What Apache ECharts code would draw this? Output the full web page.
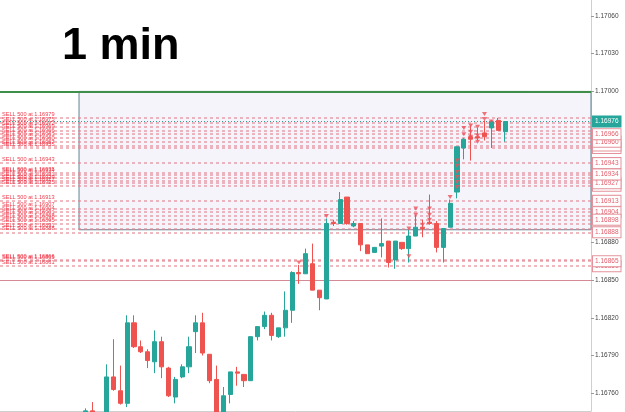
<!DOCTYPE html>
<html><head><meta charset="utf-8">
<script src="https://cdn.jsdelivr.net/npm/echarts@6/dist/echarts.min.js"></script>
<style>html,body{margin:0;padding:0;background:#fff}#c{width:625px;height:412px}</style>
</head><body><div id="c"></div>
<script>
const titleText = '1 min';
const categoryCount = 86;
const candleIndex = [12,13,15,16,17,18,19,20,21,22,23,24,25,26,27,28,29,30,31,32,33,34,35,36,37,38,39,40,41,42,43,44,45,46,47,48,49,50,51,52,53,54,55,56,57,58,59,60,61,62,63,64,65,66,67,68,69,70,71,72,73];
const opens  = [1.16742,1.16746,1.16740,1.16773,1.16762,1.16752,1.16816,1.16797,1.16793,1.16785,1.16801,1.16780,1.16757,1.16773,1.16781,1.16809,1.16816,1.16791,1.16771,1.16744,1.16759,1.16777,1.16775,1.16770,1.16805,1.16813,1.16822,1.16805,1.16812,1.16826,1.16856,1.16855,1.16863,1.16842,1.16835,1.16896,1.16895,1.16916,1.16893,1.16895,1.16878,1.16872,1.16877,1.16881,1.16866,1.16880,1.16875,1.16885,1.16892,1.16896,1.16895,1.16876,1.16892,1.16920,1.16955,1.16964,1.16964,1.16967,1.16971,1.16977,1.16968];
const closes = [1.16746,1.16743,1.16773,1.16763,1.16752,1.16816,1.16797,1.16793,1.16786,1.16801,1.16781,1.16758,1.16771,1.16781,1.16797,1.16816,1.16792,1.16770,1.16743,1.16758,1.16777,1.16776,1.16770,1.16805,1.16813,1.16822,1.16806,1.16812,1.16826,1.16856,1.16855,1.16871,1.16842,1.16836,1.16895,1.16895,1.16914,1.16895,1.16895,1.16878,1.16871,1.16876,1.16879,1.16864,1.16881,1.16875,1.16885,1.16892,1.16891,1.16895,1.16876,1.16891,1.16911,1.16956,1.16962,1.16962,1.16963,1.16964,1.16976,1.16969,1.16976];
const lows   = [1.16738,1.16740,1.16736,1.16762,1.16751,1.16749,1.16796,1.16792,1.16780,1.16776,1.16772,1.16757,1.16752,1.16772,1.16776,1.16792,1.16790,1.16768,1.16740,1.16740,1.16752,1.16766,1.16765,1.16770,1.16802,1.16811,1.16802,1.16804,1.16805,1.16816,1.16847,1.16855,1.16842,1.16826,1.16835,1.16893,1.16895,1.16894,1.16892,1.16873,1.16871,1.16872,1.16868,1.16860,1.16859,1.16874,1.16864,1.16885,1.16884,1.16894,1.16872,1.16864,1.16892,1.16915,1.16946,1.16945,1.16961,1.16961,1.16955,1.16969,1.16960];
const highs  = [1.16748,1.16753,1.16783,1.16803,1.16782,1.16822,1.16822,1.16802,1.16795,1.16810,1.16805,1.16781,1.16773,1.16783,1.16805,1.16822,1.16824,1.16791,1.16782,1.16765,1.16777,1.16781,1.16775,1.16805,1.16813,1.16825,1.16824,1.16812,1.16841,1.16857,1.16862,1.16875,1.16879,1.16842,1.16899,1.16898,1.16920,1.16916,1.16897,1.16895,1.16878,1.16876,1.16899,1.16881,1.16881,1.16880,1.16890,1.16902,1.16898,1.16918,1.16897,1.16891,1.16914,1.16956,1.16963,1.16973,1.16971,1.16977,1.16977,1.16979,1.16976];

const sellLevels = [1.16979,1.16975,1.16972,1.16969,1.16966,1.16963,1.16960,1.16957,1.16955,
  1.16943,
  1.16935,1.16934,1.16931,1.16929,1.16927,1.16925,
  1.16913,
  1.16907,1.16904,1.16901,1.16898,1.16895,1.16891,1.16888,
  1.16866,1.16865,1.16861];
const boxedLevels = [1.16955,1.16957,1.16960,1.16966,1.16943,1.16925,1.16927,1.16934,1.16913,1.16904,1.16898,1.16888,1.16861,1.16865];

const markerIndex = [43,47,59,59,60,60,61,62,62,62,65,66,66,66,66,66,66,67,67,68,68,68,69,69,69,70,70,71];
const markerPrice = [1.16864,1.16901,1.16891,1.16869,1.16907,1.16902,1.16894,1.16907,1.16902,1.16898,1.16916,1.16945,1.16941,1.16936,1.16932,1.16928,1.16924,1.16971,1.16966,1.16973,1.16968,1.16964,1.16972,1.16965,1.16960,1.16982,1.16978,1.16976];

const lastPrice = 1.16976;
const resistanceLevel = 1.17000;
const supportLevel = 1.16850;
const zoneStartIndex = 11;
const zoneTop = 1.17000;
const zoneBottom = 1.16890;
const axisTicks = [1.16760,1.16790,1.16820,1.16850,1.16880,1.17000,1.17030,1.17060];
const yMin = 1.167459;
const yMax = 1.170727;

const FONT = 'Liberation Sans, Arial, sans-serif';
const cats = [];
for (let i = 0; i < categoryCount; i++) cats.push(String(i));

const candleData = candleIndex.map((x, k) => [x, opens[k], closes[k], lows[k], highs[k]]);
const markerData = markerIndex.map((x, k) => [x, markerPrice[k]]);

const sellLines = sellLevels.map(v => ({
  yAxis: v,
  label: { show: true, position: 'insideStartTop', distance: [2, 0.5], formatter: 'SELL 500 at ' + v.toFixed(5),
    color: '#f03c4c', fontSize: 5.6, fontFamily: FONT }
}));
const boxLines = boxedLevels.map(v => ({
  yAxis: v,
  label: { show: true, position: 'end', distance: 2, formatter: v.toFixed(5),
    color: '#e35d6a', fontSize: 6.5, fontFamily: FONT, backgroundColor: '#fff',
    borderColor: '#e4939c', borderWidth: 1, padding: [2, 2, 1, 2] }
}));

const chart = echarts.init(document.getElementById('c'), null, { renderer: 'canvas' });
chart.setOption({
  animation: false,
  backgroundColor: '#fff',
  title: { text: titleText, left: 57, top: 19, textStyle: { fontSize: 45, fontWeight: 'bold', color: '#000', fontFamily: FONT } },
  grid: { left: 0, right: 34, top: 0, bottom: 1, containLabel: false },
  xAxis: { type: 'category', data: cats, boundaryGap: true,
    axisLine: { show: true, lineStyle: { color: '#cfcfcf' } }, axisTick: { show: false }, axisLabel: { show: false }, splitLine: { show: false } },
  yAxis: { type: 'value', position: 'right', min: yMin, max: yMax, scale: true,
    axisLine: { show: true, lineStyle: { color: '#cfcfcf' } },
    axisTick: { show: true, length: 3, lineStyle: { color: '#999' }, customValues: axisTicks },
    axisLabel: { margin: 4, color: '#444', fontSize: 6.5, fontFamily: FONT, customValues: axisTicks, formatter: v => v.toFixed(5) },
    splitLine: { show: false } },
  series: [
    { type: 'line', data: [], z: 1, silent: true,
      markArea: { silent: true, itemStyle: { color: '#f4f4fa', borderColor: '#5f8391', borderWidth: 1 },
        data: [[{ xAxis: zoneStartIndex, yAxis: zoneTop }, { xAxis: Infinity, yAxis: zoneBottom }]] } },
    { type: 'line', data: [], z: 2, silent: true,
      markLine: { silent: true, symbol: 'none', animation: false, precision: 5,
        lineStyle: { color: 'rgba(228,128,140,0.75)', width: 1.5, type: [3, 3] },
        data: sellLines } },
    { type: 'line', data: [], z: 3, silent: true,
      markLine: { silent: true, symbol: 'none', animation: false, precision: 5,
        data: [
          { yAxis: resistanceLevel, lineStyle: { color: '#3f8f4a', width: 2, type: 'solid' }, label: { show: false } },
          { yAxis: supportLevel, lineStyle: { color: '#d38a94', width: 1, type: 'solid' }, label: { show: false } }
        ] } },
    { type: 'line', data: [], z: 4, silent: true,
      markLine: { silent: true, symbol: 'none', animation: false, precision: 5,
        lineStyle: { color: 'rgba(0,0,0,0)', width: 1, type: 'solid' },
        data: boxLines } },
    { type: 'line', data: [], z: 5, silent: true,
      markLine: { silent: true, symbol: 'none', animation: false, precision: 5,
        data: [{ yAxis: lastPrice, lineStyle: { color: '#26a69a', width: 1, type: [1, 2] },
          label: { show: true, position: 'end', distance: 2, formatter: lastPrice.toFixed(5), color: '#fff', fontSize: 6.5,
            fontFamily: FONT, backgroundColor: '#26a69a', borderColor: '#26a69a', borderWidth: 1, padding: [2, 2, 1, 2] } }] } },
    { type: 'candlestick', z: 6, data: candleData, encode: { x: 0, y: [1, 2, 3, 4] }, barWidth: 4.6,
      itemStyle: { color: '#26a69a', color0: '#ef5350', borderColor: '#26a69a', borderColor0: '#ef5350', borderWidth: 1 } },
    { type: 'scatter', z: 7, data: markerData, symbol: 'triangle', symbolRotate: 180, symbolSize: [5, 4],
      itemStyle: { color: '#f0505a' } }
  ]
});
</script>
</body></html>
